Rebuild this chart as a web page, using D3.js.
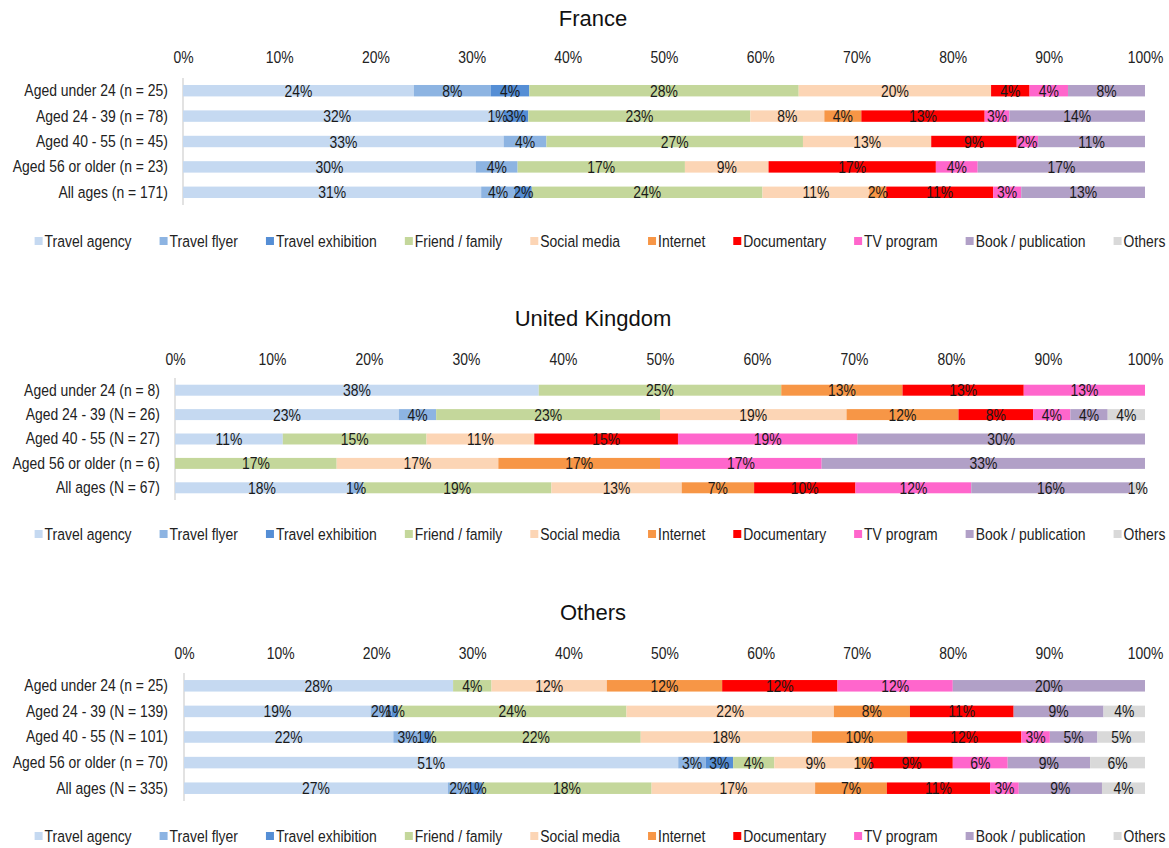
<!DOCTYPE html>
<html>
<head>
<meta charset="utf-8">
<script src="https://cdn.jsdelivr.net/npm/d3@7/dist/d3.min.js"></script>
<style>
  html, body { margin: 0; padding: 0; background: #fff; }
  svg { display: block; font-family: "Liberation Sans", Arial, sans-serif; }
</style>
</head>
<body>
<svg id="chart" width="1169" height="848"></svg>
<script>
// Information sources, in stacking order
const sources = ["Travel agency", "Travel flyer", "Travel exhibition", "Friend / family",
  "Social media", "Internet", "Documentary", "TV program", "Book / publication", "Others"];
const sourceColors = ["#c5d9f1", "#8db4e2", "#558ed5", "#c4d79b", "#fcd5b5",
  "#f79646", "#ff0000", "#ff66cc", "#b1a0c7", "#d9d9d9"];
const tickValues = [0, 0.1, 0.2, 0.3, 0.4, 0.5, 0.6, 0.7, 0.8, 0.9, 1];

// France: respondents per source for each age group
const franceGroups = ["Aged under 24 (n = 25)", "Aged 24 - 39 (n = 78)", "Aged 40 - 55 (n = 45)",
  "Aged 56 or older (n = 23)", "All ages (n = 171)"];
const franceN = [25, 78, 45, 23, 171];
const franceCounts = [
  [6, 2, 1, 7, 5, 0, 1, 1, 2, 0],
  [25, 1, 2, 18, 6, 3, 10, 2, 11, 0],
  [15, 2, 0, 12, 6, 0, 4, 1, 5, 0],
  [7, 1, 0, 4, 2, 0, 4, 1, 4, 0],
  [53, 6, 3, 41, 19, 3, 19, 5, 22, 0]
];

// United Kingdom
const ukGroups = ["Aged under 24 (n = 8)", "Aged 24 - 39 (N = 26)", "Aged 40 - 55 (N = 27)",
  "Aged 56 or older (n = 6)", "All ages (N = 67)"];
const ukN = [8, 26, 27, 6, 67];
const ukCounts = [
  [3, 0, 0, 2, 0, 1, 1, 1, 0, 0],
  [6, 1, 0, 6, 5, 3, 2, 1, 1, 1],
  [3, 0, 0, 4, 3, 0, 4, 5, 8, 0],
  [0, 0, 0, 1, 1, 1, 0, 1, 2, 0],
  [12, 1, 0, 13, 9, 5, 7, 8, 11, 1]
];

// Other nationalities
const otherGroups = ["Aged under 24 (n = 25)", "Aged 24 - 39 (N = 139)", "Aged 40 - 55 (N = 101)",
  "Aged 56 or older (n = 70)", "All ages (N = 335)"];
const otherN = [25, 139, 101, 70, 335];
const otherCounts = [
  [7, 0, 0, 1, 3, 3, 3, 3, 5, 0],
  [27, 3, 1, 33, 30, 11, 15, 0, 13, 6],
  [22, 3, 1, 22, 18, 10, 12, 3, 5, 5],
  [36, 2, 2, 3, 6, 1, 6, 4, 6, 4],
  [92, 8, 4, 59, 57, 25, 36, 10, 29, 15]
];

const panels = [
  { title: "France", groups: franceGroups, n: franceN, counts: franceCounts,
    titleY: 18, tickY: 57, top: 78, bottom: 205, left: 183, right: 1145, labelX: 168, legendY: 241 },
  { title: "United Kingdom", groups: ukGroups, n: ukN, counts: ukCounts,
    titleY: 318, tickY: 359, top: 378, bottom: 500, left: 175, right: 1145, labelX: 160, legendY: 534 },
  { title: "Others", groups: otherGroups, n: otherN, counts: otherCounts,
    titleY: 612, tickY: 653, top: 673, bottom: 801, left: 184, right: 1145, labelX: 168, legendY: 836 }
];

const svg = d3.select("#chart");
const pct = d3.format(".0%");
const textColor = "#222";
const squeeze = 0.82;   // horizontal condensing for the narrow face
const smallSize = "17px";

// Condense a text horizontally around its own anchor point
function condense(sel) {
  sel.each(function () {
    const t = d3.select(this);
    const x = +t.attr("x") || 0, y = +t.attr("y") || 0;
    t.attr("x", 0).attr("y", 0).attr("transform", `translate(${x},${y}) scale(${squeeze},1)`);
  });
}

panels.forEach(p => {
  const g = svg.append("g");

  // Title
  g.append("text")
    .attr("x", 593).attr("y", p.titleY)
    .attr("text-anchor", "middle").attr("dominant-baseline", "central")
    .style("font-size", "22px").style("fill", "#111")
    .text(p.title);

  const x = d3.scaleLinear().domain([0, 1]).range([p.left, p.right]);
  const y = d3.scaleBand().domain(p.groups).range([p.top, p.bottom]).paddingInner(0.55).paddingOuter(0.275);

  // Percentage axis along the top
  const xAxis = g.append("g")
    .attr("transform", `translate(0,${p.tickY})`)
    .call(d3.axisTop(x).tickValues(tickValues).tickFormat(pct).tickSize(0).tickPadding(0));
  xAxis.select(".domain").remove();
  xAxis.selectAll("text")
    .attr("dy", "0.35em")
    .style("font-family", "'Liberation Sans', Arial, sans-serif")
    .style("font-size", smallSize).style("fill", textColor)
    .call(condense);

  // Category axis
  const yAxis = g.append("g")
    .attr("transform", `translate(${p.left},0)`)
    .call(d3.axisLeft(y).tickSize(0).tickPadding(p.left - p.labelX));
  yAxis.select(".domain").remove();
  yAxis.selectAll("text")
    .style("font-family", "'Liberation Sans', Arial, sans-serif")
    .style("font-size", smallSize).style("fill", textColor)
    .call(condense);
  g.append("line")
    .attr("x1", p.left).attr("x2", p.left)
    .attr("y1", p.top).attr("y2", p.bottom)
    .attr("stroke", "#d9d9d9").attr("stroke-width", 1.5);

  // Stacked shares
  const rows = p.counts.map((c, i) => {
    let acc = 0;
    return c.map((v, j) => {
      const share = v / p.n[i];
      const seg = { group: p.groups[i], source: j, share, x0: acc, x1: acc + share };
      acc += share;
      return seg;
    });
  });

  const rowG = g.selectAll("g.row").data(rows).join("g").attr("class", "row");
  rowG.selectAll("rect").data(d => d.filter(s => s.share > 0)).join("rect")
    .attr("x", d => x(d.x0))
    .attr("width", d => x(d.x1) - x(d.x0))
    .attr("y", d => y(d.group))
    .attr("height", y.bandwidth())
    .attr("fill", d => sourceColors[d.source]);
  rowG.selectAll("text").data(d => d.filter(s => s.share > 0)).join("text")
    .attr("x", d => (x(d.x0) + x(d.x1)) / 2)
    .attr("y", d => y(d.group) + y.bandwidth() / 2)
    .attr("text-anchor", "middle").attr("dominant-baseline", "central")
    .style("font-size", smallSize).style("fill", "#1a1a1a")
    .text(d => pct(d.share))
    .call(condense);

  // Legend: swatch + label, items separated by a constant gap, centred
  const legend = g.append("g").attr("transform", `translate(0,${p.legendY})`);
  const items = legend.selectAll("g").data(sources).join("g");
  items.append("rect")
    .attr("y", -4).attr("width", 8).attr("height", 8)
    .attr("fill", (d, i) => sourceColors[i]);
  items.append("text")
    .attr("x", 10).attr("dy", "0.35em")
    .style("font-size", smallSize).style("fill", textColor)
    .text(d => d)
    .call(condense);
  let cx = 0;
  const gap = 28;
  const offsets = [];
  items.each(function () {
    offsets.push(cx);
    cx += 10 + this.querySelector("text").getComputedTextLength() * squeeze + gap;
  });
  const total = cx - gap;
  const start = 600 - total / 2;
  items.attr("transform", (d, i) => `translate(${start + offsets[i]},0)`);
});
</script>
</body>
</html>
